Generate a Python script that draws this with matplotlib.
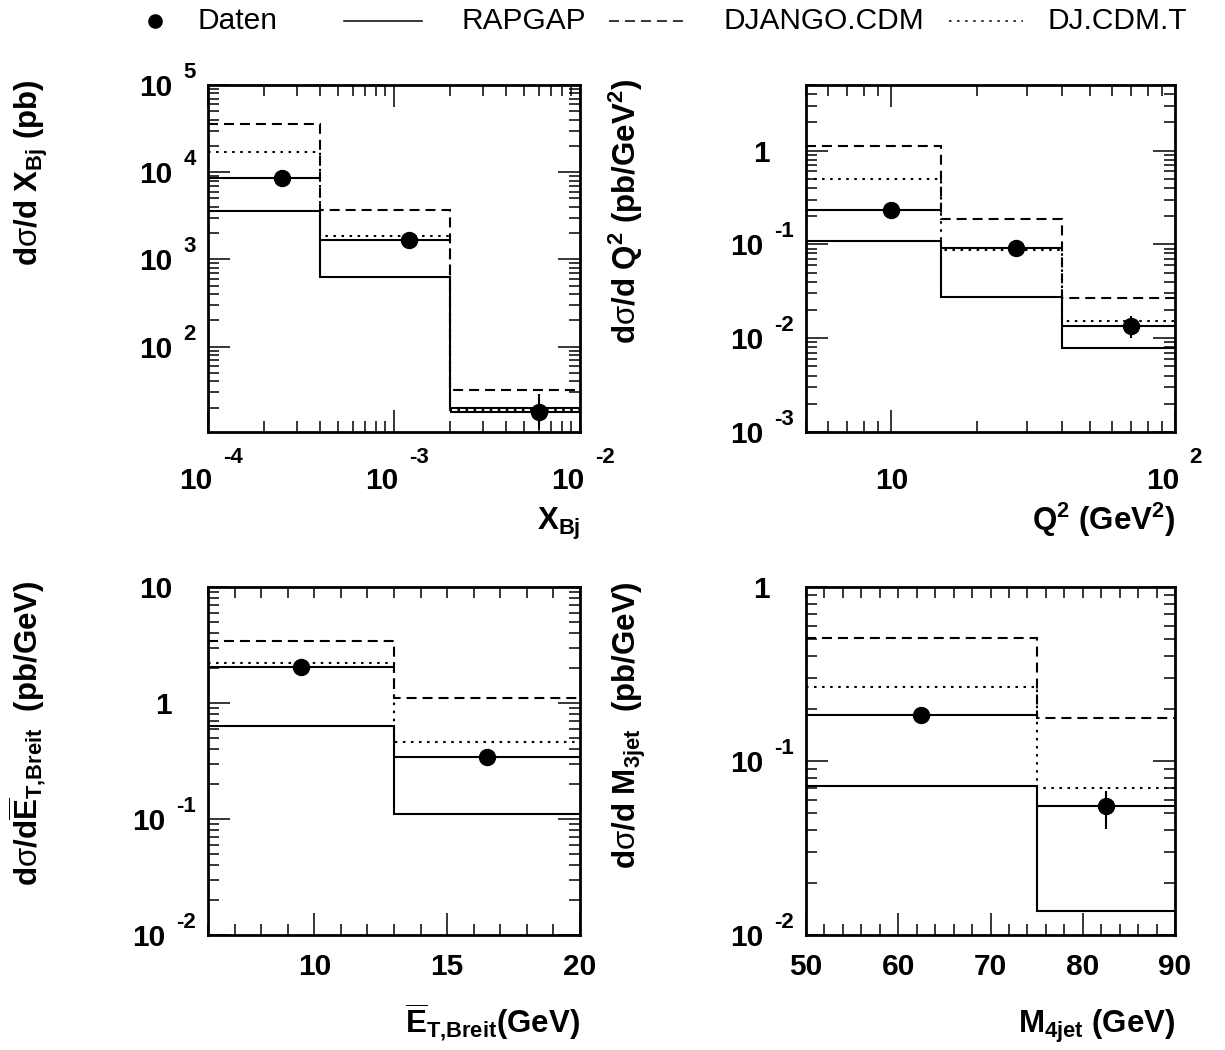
"""
Differential cross sections: data vs RAPGAP / DJANGO.CDM / DJ.CDM.T
"""

import numpy as np
import matplotlib
matplotlib.use('Agg')
import matplotlib.pyplot as plt
from matplotlib.lines import Line2D
from matplotlib.ticker import LogLocator, MultipleLocator, NullFormatter

plt.rcParams['font.family'] = ['Liberation Sans', 'DejaVu Sans']
plt.rcParams['mathtext.fontset'] = 'custom'
plt.rcParams['mathtext.rm'] = 'Liberation Sans'
plt.rcParams['mathtext.bf'] = 'Liberation Sans:bold'
plt.rcParams['mathtext.it'] = 'Liberation Sans:italic'
plt.rcParams['lines.scale_dashes'] = False

# ---- data ----
xbj_edges = [1e-4, 4e-4, 2e-3, 1e-2]
xbj_data = [8600, 1690, 17.7]
xbj_lo = [8100, 1570, 11.5]
xbj_hi = [9100, 1810, 28.5]
xbj_rapgap = [3570, 628, 19.7]
xbj_django = [36000, 3730, 31.8]
xbj_djt = [16900, 1848, 19.0]

q2_edges = [5, 15, 40, 100]
q2_data = [0.235, 0.0925, 0.0134]
q2_lo = [0.222, 0.088, 0.0101]
q2_hi = [0.248, 0.097, 0.0171]
q2_rapgap = [0.1087, 0.0278, 0.0079]
q2_django = [1.115, 0.187, 0.0265]
q2_djt = [0.50, 0.088, 0.0154]

et_edges = [6, 13, 20]
et_data = [2.05, 0.34]
et_lo = [1.95, 0.32]
et_hi = [2.15, 0.36]
et_rapgap = [0.63, 0.11]
et_django = [3.4, 1.1]
et_djt = [2.2, 0.46]

m4_edges = [50, 75, 90]
m4_data = [0.185, 0.055]
m4_lo = [0.176, 0.0405]
m4_hi = [0.194, 0.0675]
m4_rapgap = [0.072, 0.0137]
m4_django = [0.51, 0.177]
m4_djt = [0.265, 0.070]

legend_labels = ['Daten', 'RAPGAP', 'DJANGO.CDM', 'DJ.CDM.T']

# ---- style ----
W, H = 1225, 1050
LW = 1.5
DASH = (0, (7.2, 4.3))
DOT = (0, (1.8, 4.0))
BIG = 21.5
EXP = 16
TITLE = 22.5
PX = 'offset pixels'

fig = plt.figure(figsize=(W / 100, H / 100), dpi=100)
renderer = fig.canvas.get_renderer()


def text_w(s, size):
    t = fig.text(0, 0, s, fontsize=size, fontweight='bold')
    w = t.get_window_extent(renderer).width
    t.remove()
    return w


def add_axes(left, top, right, bottom):
    return fig.add_axes([left / W, 1 - bottom / H, (right - left) / W, (bottom - top) / H])


def draw_panel(ax, edges, data, lo, hi, rap, dja, djt):
    edges = np.asarray(edges, dtype=float)
    data = np.asarray(data)
    ax.stairs(rap, edges, baseline=None, color='k', lw=LW, ls='-')
    ax.stairs(dja, edges, baseline=None, color='k', lw=LW, ls=DASH)
    ax.stairs(djt, edges, baseline=None, color='k', lw=LW, ls=DOT)
    centers = (edges[:-1] + edges[1:]) / 2
    half = (edges[1:] - edges[:-1]) / 2
    yerr = [data - np.asarray(lo), np.asarray(hi) - data]
    ax.errorbar(centers, data, xerr=half, yerr=yerr, fmt='o', color='k',
                ms=11.5, elinewidth=LW, capsize=0, zorder=5)


def style_axes(ax, xlog):
    ax.set_yscale('log')
    ax.yaxis.set_major_locator(LogLocator(base=10, numticks=100))
    ax.yaxis.set_minor_locator(LogLocator(base=10, subs=np.arange(2, 10), numticks=100))
    ax.yaxis.set_minor_formatter(NullFormatter())
    if xlog:
        ax.set_xscale('log')
        ax.xaxis.set_major_locator(LogLocator(base=10, numticks=100))
        ax.xaxis.set_minor_locator(LogLocator(base=10, subs=np.arange(2, 10), numticks=100))
        ax.xaxis.set_minor_formatter(NullFormatter())
    ax.tick_params(which='both', direction='in', top=True, right=True,
                   labelbottom=False, labelleft=False, width=1.1, color='k')
    ax.tick_params(which='major', length=16)
    ax.tick_params(which='minor', length=8)
    for s in ax.spines.values():
        s.set_linewidth(2)


def short_top_ticks(ax):
    for t in ax.xaxis.get_major_ticks():
        t.tick2line.set_markersize(8)


def ylabels_log(ax, vals):
    tr = ax.get_yaxis_transform()
    for v in vals:
        n = int(round(np.log10(v)))
        if n in (0, 1):
            ax.annotate(str(int(round(v))), (0, v), xycoords=tr, xytext=(-36, -11),
                        textcoords=PX, ha='right', va='baseline',
                        fontsize=BIG, fontweight='bold')
        else:
            e = str(n)
            ax.annotate(e, (0, v), xycoords=tr, xytext=(-12, 7), textcoords=PX,
                        ha='right', va='baseline', fontsize=EXP, fontweight='bold')
            w = text_w(e, EXP)
            ax.annotate('10', (0, v), xycoords=tr, xytext=(-12 - w - 11, -11),
                        textcoords=PX, ha='right', va='baseline',
                        fontsize=BIG, fontweight='bold')


def xlabels_log(ax, vals):
    tr = ax.get_xaxis_transform()
    w10 = text_w('10', BIG)
    for v in vals:
        n = int(round(np.log10(v)))
        if n in (0, 1):
            ax.annotate(str(int(round(v))), (v, 0), xycoords=tr, xytext=(0, -57),
                        textcoords=PX, ha='center', va='baseline',
                        fontsize=BIG, fontweight='bold')
        else:
            left = -12 - w10 / 2
            ax.annotate('10', (v, 0), xycoords=tr, xytext=(left, -57), textcoords=PX,
                        ha='left', va='baseline', fontsize=BIG, fontweight='bold')
            ax.annotate(str(n), (v, 0), xycoords=tr, xytext=(left + w10 + 10, -31),
                        textcoords=PX, ha='left', va='baseline',
                        fontsize=EXP, fontweight='bold')


def xlabels_lin(ax, vals):
    tr = ax.get_xaxis_transform()
    for v in vals:
        ax.annotate(str(v), (v, 0), xycoords=tr, xytext=(0, -40), textcoords=PX,
                    ha='center', va='baseline', fontsize=BIG, fontweight='bold')


def titles(ax, ytitle, xtitle):
    ax.annotate(ytitle, (0, 1), xycoords='axes fraction', xytext=(-170, 6),
                textcoords=PX, rotation=90, rotation_mode='anchor',
                ha='right', va='baseline', fontsize=TITLE)
    ax.annotate(xtitle, (1, 0), xycoords='axes fraction', xytext=(0, -98),
                textcoords=PX, ha='right', va='baseline', fontsize=TITLE)


# ---- top left: X_Bj ----
ax1 = add_axes(208, 85, 580, 432)
style_axes(ax1, xlog=True)
draw_panel(ax1, xbj_edges, xbj_data, xbj_lo, xbj_hi, xbj_rapgap, xbj_django, xbj_djt)
ax1.set_xlim(1e-4, 1e-2)
ax1.set_ylim(10.5, 1e5)
ylabels_log(ax1, [1e2, 1e3, 1e4, 1e5])
xlabels_log(ax1, [1e-4, 1e-3, 1e-2])
titles(ax1, r'$\mathbf{d}\mathrm{σ}\mathbf{/d\ X_{Bj}\ (pb)}$', r'$\mathbf{X_{Bj}}$')

# ---- top right: Q^2 ----
ax2 = add_axes(806, 85, 1175, 432)
style_axes(ax2, xlog=True)
draw_panel(ax2, q2_edges, q2_data, q2_lo, q2_hi, q2_rapgap, q2_django, q2_djt)
ax2.set_xlim(5, 100)
ax2.set_ylim(1e-3, 5)
ylabels_log(ax2, [1, 0.1, 0.01, 0.001])
xlabels_log(ax2, [10, 100])
titles(ax2, r'$\mathbf{d}\mathrm{σ}\mathbf{/d\ Q^{2}\ (pb/GeV^{2})}$',
       r'$\mathbf{Q^{2}\ (GeV^{2})}$')

# ---- bottom left: E_T,Breit ----
ax3 = add_axes(208, 587, 580, 935)
style_axes(ax3, xlog=False)
ax3.xaxis.set_major_locator(MultipleLocator(5))
ax3.xaxis.set_minor_locator(MultipleLocator(1))
draw_panel(ax3, et_edges, et_data, et_lo, et_hi, et_rapgap, et_django, et_djt)
ax3.set_xlim(6, 20)
ax3.set_ylim(0.01, 10)
short_top_ticks(ax3)
ylabels_log(ax3, [10, 1, 0.1, 0.01])
xlabels_lin(ax3, [10, 15, 20])
titles(ax3, r'$\mathbf{d}\mathrm{σ}\mathbf{/d\overline{E}_{T{,}Breit}\ \ (pb/GeV)}$',
       r'$\mathbf{\overline{E}_{T{,}Breit}(GeV)}$')

# ---- bottom right: M_4jet ----
ax4 = add_axes(806, 587, 1175, 935)
style_axes(ax4, xlog=False)
ax4.xaxis.set_major_locator(MultipleLocator(10))
ax4.xaxis.set_minor_locator(MultipleLocator(2))
draw_panel(ax4, m4_edges, m4_data, m4_lo, m4_hi, m4_rapgap, m4_django, m4_djt)
ax4.set_xlim(50, 90)
ax4.set_ylim(0.01, 1)
short_top_ticks(ax4)
ylabels_log(ax4, [1, 0.1, 0.01])
xlabels_lin(ax4, [50, 60, 70, 80, 90])
titles(ax4, r'$\mathbf{d}\mathrm{σ}\mathbf{/d\ M_{3jet}\ \ (pb/GeV)}$',
       r'$\mathbf{M_{4jet}\ (GeV)}$')

# ---- legend row ----
leg_y = 1 - 21 / H
base_y = 1 - 29 / H
fig.add_artist(Line2D([155 / W], [leg_y], marker='o', ms=9.5, color='k',
                      transform=fig.transFigure))
for (x0, x1), ls in zip([(344, 422), (609, 684), (949, 1023)], ['-', DASH, DOT]):
    fig.add_artist(Line2D([x0 / W, x1 / W], [leg_y, leg_y], color='k', lw=1.1, ls=ls,
                          transform=fig.transFigure))
for x, lab in zip([197, 461, 723, 1047], legend_labels):
    fig.text(x / W, base_y, lab, fontsize=21.5, ha='left', va='baseline')

fig.savefig('out.png', dpi=100)
print("Saved: out.png")
